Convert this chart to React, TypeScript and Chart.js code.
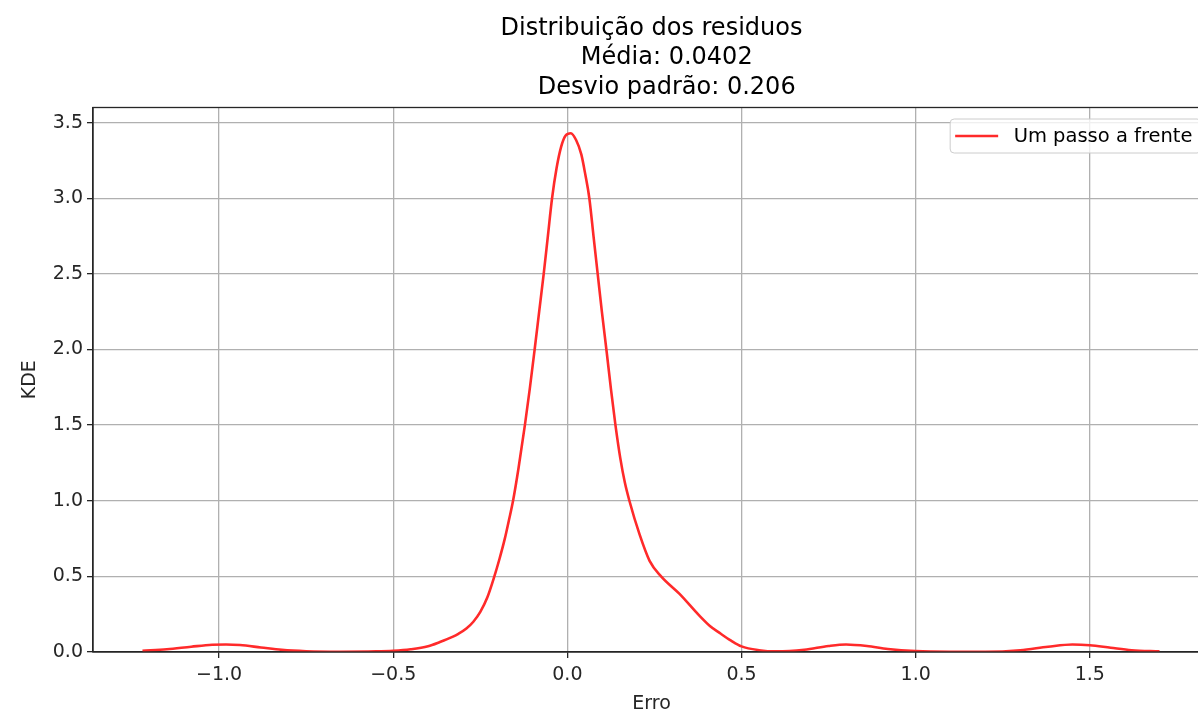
import React, { useEffect, useRef } from "react";
import { Chart, registerables } from "chart.js";

Chart.register(...registerables);

// ---- data ----
const errX = [
  -1.22, -1.15, -1.08, -1.02, -0.98, -0.94, -0.88, -0.82, -0.75, -0.65, -0.55, -0.5,
  -0.45, -0.4, -0.366, -0.33, -0.313, -0.29, -0.27, -0.25, -0.23, -0.211, -0.195,
  -0.18, -0.168, -0.156, -0.14, -0.122, -0.108, -0.094, -0.081, -0.068, -0.056,
  -0.044, -0.031, -0.018, -0.005, 0.01, 0.025, 0.04, 0.052, 0.063, 0.075, 0.087,
  0.099, 0.113, 0.125, 0.138, 0.152, 0.165, 0.178, 0.207, 0.236, 0.269, 0.322, 0.379, 0.41, 0.437,
  0.47, 0.5, 0.55, 0.6, 0.68, 0.75, 0.8, 0.86, 0.92, 1.0, 1.1, 1.2, 1.3, 1.38, 1.45,
  1.5, 1.56, 1.62, 1.7,
];
const kdeY = [
  0.008, 0.018, 0.035, 0.048, 0.05, 0.046, 0.03, 0.014, 0.005, 0.002, 0.004, 0.008,
  0.018, 0.038, 0.066, 0.1, 0.12, 0.155, 0.2, 0.265, 0.36, 0.49, 0.615,
  0.746, 0.87, 1.0, 1.22, 1.5, 1.74, 2.0, 2.25, 2.5, 2.75,
  3.0, 3.2, 3.34, 3.415, 3.43, 3.385, 3.29, 3.15, 3.0, 2.75, 2.5,
  2.25, 1.98, 1.74, 1.5, 1.28, 1.12, 1.0, 0.779, 0.603, 0.5, 0.384, 0.24, 0.17, 0.126,
  0.075, 0.037, 0.012, 0.004, 0.015, 0.04, 0.05, 0.04, 0.02, 0.006, 0.002, 0.002, 0.012, 0.035, 0.05,
  0.045, 0.028, 0.012, 0.004,
];
const xTicks = [-1.0, -0.5, 0.0, 0.5, 1.0, 1.5];
const yTicks = [0.0, 0.5, 1.0, 1.5, 2.0, 2.5, 3.0, 3.5];
const xRange = [-1.362, 1.845];
const yRange = [0, 3.6];
const titleLines = ["Distribuição dos residuos", "    Média: 0.0402", "    Desvio padrão: 0.206"];
const seriesLabel = "Um passo a frente";
const xTitle = "Erro";
const yTitle = "KDE";

const FONT = "'DejaVu Sans', sans-serif";
const CANVAS_W = 1240;
const CANVAS_H = 719;

const fmt = (v: number) => (v < 0 ? "\u2212" + Math.abs(v).toFixed(1) : v.toFixed(1));

const decorPlugin = {
  id: "decor",
  afterDatasetsDraw(chart: any) {
    const { ctx, chartArea: a } = chart;
    ctx.save();
    // frame (spines)
    ctx.strokeStyle = "#262626";
    ctx.lineWidth = 1.3;
    ctx.strokeRect(a.left, a.top, a.right - a.left, a.bottom - a.top);
    // title
    ctx.fillStyle = "#000";
    ctx.font = `24px ${FONT}`;
    ctx.textAlign = "center";
    ctx.textBaseline = "middle";
    const cx = (a.left + a.right) / 2;
    titleLines.forEach((t, i) => {
      ctx.fillText(t, cx, a.top - 79 + i * 29.5);
    });
    // legend
    ctx.font = `19.5px ${FONT}`;
    const w = ctx.measureText(seriesLabel).width;
    const boxRight = a.right - 9;
    const boxLeft = boxRight - 72 - w;
    const boxTop = a.top + 11.5;
    const boxH = 34;
    ctx.beginPath();
    ctx.roundRect(boxLeft, boxTop, boxRight - boxLeft, boxH, 4);
    ctx.fillStyle = "rgba(255,255,255,0.8)";
    ctx.fill();
    ctx.strokeStyle = "#cccccc";
    ctx.lineWidth = 1;
    ctx.stroke();
    const ly = boxTop + boxH / 2;
    ctx.beginPath();
    ctx.moveTo(boxLeft + 5, ly);
    ctx.lineTo(boxLeft + 48, ly);
    ctx.strokeStyle = "#ff2a2a";
    ctx.lineWidth = 2.6;
    ctx.stroke();
    ctx.fillStyle = "#000";
    ctx.textAlign = "left";
    ctx.fillText(seriesLabel, boxLeft + 63.5, ly + 1);
    ctx.restore();
  },
};

export default function App() {
  const ref = useRef<HTMLCanvasElement | null>(null);
  useEffect(() => {
    if (!ref.current) return;
    const chart = new Chart(ref.current, {
      type: "line",
      data: {
        datasets: [
          {
            label: seriesLabel,
            data: errX.map((x, i) => ({ x, y: kdeY[i] })),
            borderColor: "#ff2a2a",
            borderWidth: 2.6,
            pointRadius: 0,
            fill: false,
            cubicInterpolationMode: "monotone",
          },
        ],
      },
      options: {
        responsive: false,
        animation: false,
        layout: { padding: { left: 0, right: CANVAS_W - 1210, top: 107.5, bottom: 0 } },
        plugins: { legend: { display: false }, title: { display: false }, tooltip: { enabled: false } },
        scales: {
          x: {
            type: "linear",
            min: xRange[0],
            max: xRange[1],
            afterBuildTicks: (s: any) => {
              s.ticks = xTicks.map((v) => ({ value: v }));
            },
            afterFit: (s: any) => {
              s.height = CANVAS_H - 652;
            },
            ticks: {
              callback: (v: any) => fmt(Number(v)),
              color: "#262626",
              font: { family: FONT, size: 19 },
              padding: 6,
              maxRotation: 0,
              autoSkip: false,
            },
            grid: { color: "#b0b0b0", lineWidth: 1.3, tickColor: "#262626", tickLength: 6, tickWidth: 1.3 },
            border: { display: true, color: "#262626", width: 1.3 },
            title: { display: true, text: xTitle, color: "#262626", font: { family: FONT, size: 19 }, padding: { top: 0, bottom: 4 } },
          },
          y: {
            type: "linear",
            min: yRange[0],
            max: yRange[1],
            afterBuildTicks: (s: any) => {
              s.ticks = yTicks.map((v) => ({ value: v }));
            },
            afterFit: (s: any) => {
              s.width = 93;
            },
            ticks: {
              callback: (v: any) => fmt(Number(v)),
              color: "#262626",
              font: { family: FONT, size: 19 },
              padding: 4,
              autoSkip: false,
            },
            grid: { color: "#b0b0b0", lineWidth: 1.3, tickColor: "#262626", tickLength: 6, tickWidth: 1.3 },
            border: { display: true, color: "#262626", width: 1.3 },
            title: { display: true, text: yTitle, color: "#262626", font: { family: FONT, size: 19 }, padding: { top: 19, bottom: 0 } },
          },
        },
      },
      plugins: [decorPlugin],
    } as any);
    return () => chart.destroy();
  }, []);
  return (
    <div style={{ position: "fixed", left: 0, top: 0, width: "100vw", height: "100vh", overflow: "hidden", background: "#fff" }}>
      <canvas
        ref={ref}
        width={CANVAS_W}
        height={CANVAS_H}
        style={{ position: "absolute", left: 0, top: 0, width: CANVAS_W, height: CANVAS_H }}
      />
    </div>
  );
}
